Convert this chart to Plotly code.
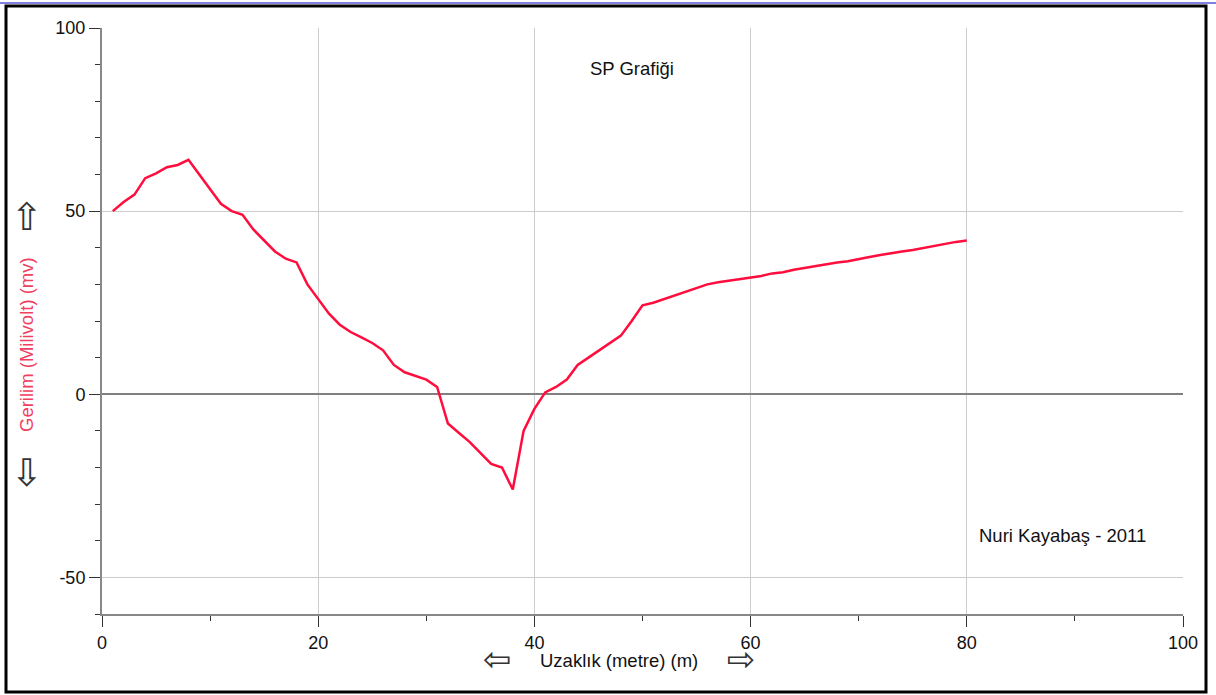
import plotly.graph_objects as go

# Data
distance_m = list(range(1, 81))
voltage_mv = [
    50, 52.5, 54.5, 59, 60.3, 62, 62.6, 64, 60, 56,
    52, 50, 49, 45, 42, 39, 37, 36, 30, 26,
    22, 19, 17, 15.5, 14, 12, 8, 6, 5, 4,
    2, -8, -10.5, -13, -16, -19, -20, -26, -10, -4,
    0.5, 2, 4, 8, 10, 12, 14, 16, 20, 24.3,
    25, 26, 27, 28.2, 29, 30, 30.6, 31, 31.6, 32,
    32.3, 33, 33.3, 34, 34.5, 35, 35.3, 36, 36.3, 37,
    37.5, 38, 38.6, 39, 39.4, 40, 40.5, 41, 41.6, 42,
]
x_ticks = [0, 20, 40, 60, 80, 100]
x_tick_labels = ["0", "20", "40", "60", "80", "100"]
y_ticks = [-50, 0, 50, 100]
y_tick_labels = ["-50", "0", "50", "100"]

title_text = "SP Grafiği"
author_text = "Nuri Kayabaş - 2011"
x_title = "Uzaklık (metre) (m)"
y_title = "Gerilim (Milivolt) (mv)"

FONT = "Liberation Sans, Arial, sans-serif"

fig = go.Figure()
fig.add_trace(go.Scatter(
    x=distance_m, y=voltage_mv, mode="lines",
    line=dict(color="#ff0d3d", width=2.5),
    hoverinfo="x+y", showlegend=False,
))

L, R, T, B = 102, 33, 28, 81
W, H = 1216, 695
pw, ph = W - L - R, H - T - B

def px(xp):
    return (xp - L) / pw

def py(yp):
    return (H - B - yp) / ph

def note(text, x, y, size=18.5, color="#111", family=FONT, angle=0, **kw):
    return dict(text=text, xref="paper", yref="paper", x=px(x), y=py(y),
                xanchor="center", yanchor="middle", showarrow=False,
                textangle=angle, font=dict(family=family, size=size, color=color), **kw)

fig.update_layout(
    width=W, height=H,
    margin=dict(l=L, r=R, t=T, b=B),
    paper_bgcolor="white", plot_bgcolor="white",
    font=dict(family=FONT, size=17, color="#111"),
    xaxis=dict(
        range=[0, 100], tickvals=x_ticks, ticktext=x_tick_labels,
        showgrid=True, gridcolor="#cccccc", gridwidth=1,
        zeroline=False, showline=True, linecolor="#888888", linewidth=2,
        ticks="outside", ticklen=11, tickcolor="#333", tickwidth=1,
        minor=dict(dtick=10, tick0=0, ticks="outside", ticklen=5, tickcolor="#333", showgrid=False),
        tickfont=dict(family=FONT, size=18, color="#111"),
    ),
    yaxis=dict(
        range=[-60, 100], tickvals=y_ticks, ticktext=y_tick_labels,
        showgrid=True, gridcolor="#cccccc", gridwidth=1,
        zeroline=True, zerolinecolor="#808080", zerolinewidth=2,
        showline=True, linecolor="#888888", linewidth=2,
        ticks="outside", ticklen=11, tickcolor="#333", tickwidth=1,
        minor=dict(dtick=10, tick0=0, ticks="outside", ticklen=5, tickcolor="#333", showgrid=False),
        tickfont=dict(family=FONT, size=18, color="#111"),
    ),
    shapes=[
        dict(type="rect", xref="paper", yref="paper",
             x0=px(6), x1=px(1206), y0=py(692), y1=py(6),
             line=dict(color="black", width=3), fillcolor="rgba(0,0,0,0)", layer="above"),
        dict(type="line", xref="paper", yref="paper",
             x0=px(0), x1=px(1216), y0=py(3), y1=py(3),
             line=dict(color="#8080e0", width=2)),
    ],
    annotations=[
        note(title_text, 632, 68),
        note(author_text, 1062, 535),
        note(x_title, 619, 660),
        note(y_title, 27, 345, color="#f0405f", angle=-90),
        note("⇧", 27, 217, size=38, color="#333", family="DejaVu Sans"),
        note("⇩", 27, 473, size=38, color="#333", family="DejaVu Sans"),
        note("⇦", 497, 659, size=34, color="#333", family="DejaVu Sans", height=18, width=32),
        note("⇨", 741, 659, size=34, color="#333", family="DejaVu Sans", height=18, width=32),
    ],
)

fig.write_html("out.html")
